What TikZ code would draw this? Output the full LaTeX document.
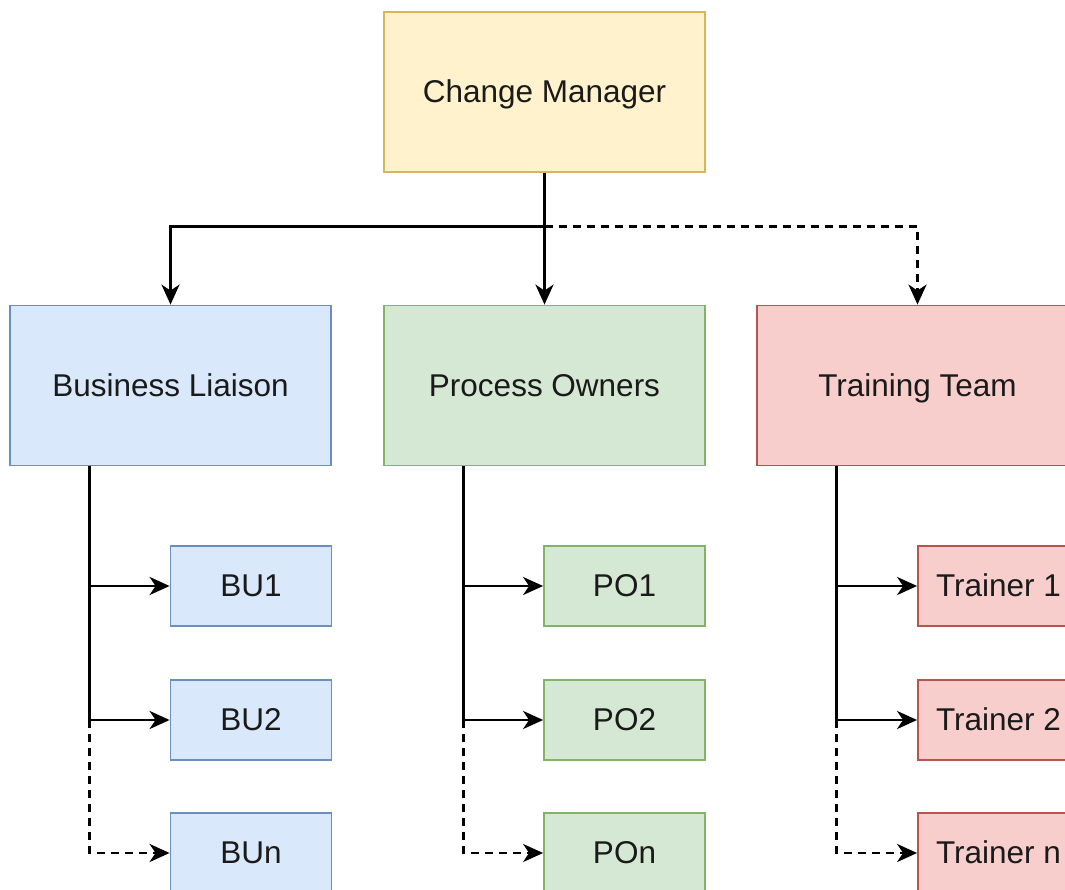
\documentclass[tikz,border=0pt]{standalone}
\usepackage{fontspec}
\setmainfont{Liberation Sans}
\usetikzlibrary{arrows.meta,calc}
\definecolor{yfill}{HTML}{FFF2CC}\definecolor{ydraw}{HTML}{D6B656}
\definecolor{bfill}{HTML}{DAE8FC}\definecolor{bdraw}{HTML}{6C8EBF}
\definecolor{gfill}{HTML}{D5E8D4}\definecolor{gdraw}{HTML}{82B366}
\definecolor{rfill}{HTML}{F8CECC}\definecolor{rdraw}{HTML}{B85450}
\definecolor{txt}{HTML}{1A1A1A}
\tikzset{
  box/.style={rectangle, inner sep=0pt, line width=1.8pt, text=txt, font=\fontsize{31.5}{34}\selectfont, text height=21pt, text depth=0pt},
  big/.style={box, minimum width=321pt, minimum height=160pt},
  small/.style={box, minimum width=161pt, minimum height=80pt},
  yel/.style={fill=yfill, draw=ydraw},
  blu/.style={fill=bfill, draw=bdraw},
  grn/.style={fill=gfill, draw=gdraw},
  red/.style={fill=rfill, draw=rdraw},
  conn/.style={line width=2.8pt, black, -{Stealth[length=20pt,width=18pt,inset=6pt]}},
  dconn/.style={conn, dash pattern=on 8pt off 6pt},
}
\begin{document}
\begin{tikzpicture}[x=1pt,y=-1pt]
\useasboundingbox (0,0) rectangle (1065,890);
\clip (0,0) rectangle (1065,890);
\fill[white] (0,0) rectangle (1065,890);
\node[big,yel] (cm) at (544.5,92) {Change Manager};
\node[big,blu] (bl) at (170.5,385.5) {Business Liaison};
\node[big,grn] (po) at (544.5,385.5) {Process Owners};
\node[big,red] (tt) at (917.5,385.5) {Training Team};
\foreach \n/\c/\x/\st in {bu/blu/251/BU, po/grn/624.5/PO, tr/red/998.5/Trainer\space}{
  \node[small,\c] (\n1) at (\x,586) {\st1};
  \node[small,\c] (\n2) at (\x,720) {\st2};
  \node[small,\c] (\n3) at (\x,853) {\st n};
}
\coordinate (j) at ($(cm.south)+(0,54)$);
\draw[conn] (cm.south) -- (po.north);
\draw[conn] (j) -| (bl.north);
\draw[dconn] (j) -| (tt.north);
\foreach \p/\n in {bl/bu, po/po, tt/tr}{
  \coordinate (\p s) at ($(\p.south west)!0.25!(\p.south east)$);
  \draw[conn] (\p s) |- (\n1.west);
  \draw[conn] (\p s) |- (\n2.west);
  \draw[dconn] (\p s |- \n2.west) |- (\n3.west);
}
\end{tikzpicture}
\end{document}
